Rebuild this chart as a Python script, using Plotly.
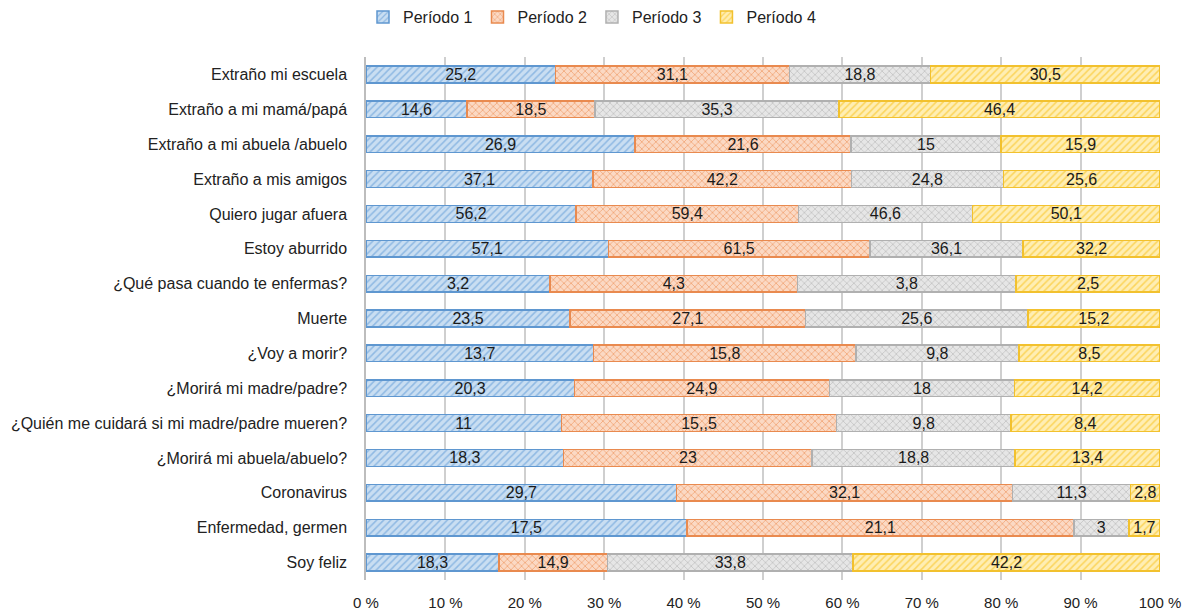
import plotly.graph_objects as go

categories = [
    "Extraño mi escuela",
    "Extraño a mi mamá/papá",
    "Extraño a mi abuela /abuelo",
    "Extraño a mis amigos",
    "Quiero jugar afuera",
    "Estoy aburrido",
    "¿Qué pasa cuando te enfermas?",
    "Muerte",
    "¿Voy a morir?",
    "¿Morirá mi madre/padre?",
    "¿Quién me cuidará si mi madre/padre mueren?",
    "¿Morirá mi abuela/abuelo?",
    "Coronavirus",
    "Enfermedad, germen",
    "Soy feliz",
]

periodo1 = [25.2, 14.6, 26.9, 37.1, 56.2, 57.1, 3.2, 23.5, 13.7, 20.3, 11, 18.3, 29.7, 17.5, 18.3]
periodo2 = [31.1, 18.5, 21.6, 42.2, 59.4, 61.5, 4.3, 27.1, 15.8, 24.9, 15.5, 23, 32.1, 21.1, 14.9]
periodo3 = [18.8, 35.3, 15, 24.8, 46.6, 36.1, 3.8, 25.6, 9.8, 18, 9.8, 18.8, 11.3, 3, 33.8]
periodo4 = [30.5, 46.4, 15.9, 25.6, 50.1, 32.2, 2.5, 15.2, 8.5, 14.2, 8.4, 13.4, 2.8, 1.7, 42.2]

series_names = ["Período 1", "Período 2", "Período 3", "Período 4"]


def fmt(values):
    return [f"{v:g}".replace(".", ",") for v in values]


labels = [fmt(periodo1), fmt(periodo2), fmt(periodo3), fmt(periodo4)]
labels[1][10] = "15,,5"

FONT = "Liberation Sans, Arial, sans-serif"

styles = [
    dict(bg="#c9def2", fg="#8fb9e3", line="#5f97d0", shape="/"),
    dict(bg="#fbd9c4", fg="#f1a77a", line="#e98a4f", shape="x"),
    dict(bg="#e6e6e6", fg="#c4c4c4", line="#b0b0b0", shape="x"),
    dict(bg="#ffeeb3", fg="#fcd55c", line="#f2c12e", shape="/"),
]

fig = go.Figure()
for name, vals, txt, st in zip(series_names, [periodo1, periodo2, periodo3, periodo4], labels, styles):
    fig.add_trace(go.Bar(
        y=categories,
        x=vals,
        name=name,
        orientation="h",
        text=txt,
        textposition="inside",
        insidetextanchor="middle",
        textangle=0,
        textfont=dict(family=FONT, size=16, color="#1a1a1a"),
        marker=dict(
            color=st["bg"],
            line=dict(color=st["line"], width=1.5),
            pattern=dict(shape=st["shape"], fgcolor=st["fg"], bgcolor=st["bg"],
                         size=5, solidity=0.3, fillmode="replace"),
        ),
        hovertemplate="%{y}<br>" + name + ": %{x}<extra></extra>",
    ))

fig.update_layout(
    barmode="stack",
    barnorm="percent",
    bargap=0.52,
    width=1184,
    height=611,
    margin=dict(l=366, r=24, t=57, b=31, autoexpand=False),
    paper_bgcolor="white",
    plot_bgcolor="white",
    font=dict(family=FONT, size=16, color="#222222"),
    uniformtext=dict(minsize=16, mode="show"),
    legend=dict(
        orientation="h",
        xref="container",
        yref="container",
        x=0.5,
        xanchor="center",
        y=1.0,
        yanchor="top",
        font=dict(size=16, color="#222222"),
        itemwidth=30,
        traceorder="normal",
    ),
    showlegend=True,
)

fig.update_xaxes(
    range=[0, 100],
    dtick=10,
    ticksuffix=" %",
    showgrid=True,
    gridcolor="#cfcfcf",
    gridwidth=1.5,
    zeroline=False,
    ticks="outside",
    ticklen=9,
    tickcolor="rgba(0,0,0,0)",
    tickfont=dict(size=15, color="#222222"),
    automargin=False,
)
fig.update_yaxes(
    autorange="reversed",
    showgrid=False,
    showline=True,
    linecolor="#bdbdbd",
    linewidth=1.5,
    ticks="outside",
    ticklen=14,
    tickcolor="rgba(0,0,0,0)",
    tickfont=dict(size=16, color="#222222"),
    automargin=False,
)

fig.write_html("out.html")
